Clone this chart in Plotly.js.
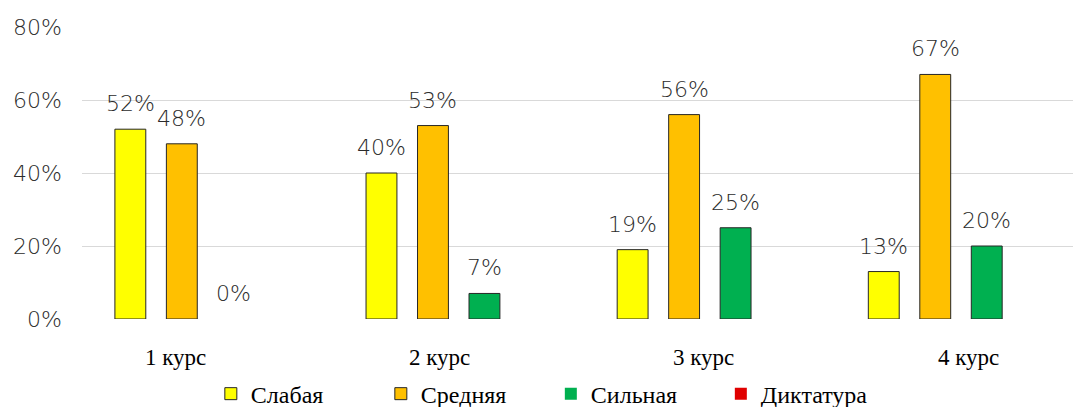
<!DOCTYPE html>
<html>
<head>
<meta charset="utf-8">
<script src="https://cdn.plot.ly/plotly-3.0.1.min.js"></script>
<style>html,body{margin:0;padding:0;background:#fff}#chart{width:1073px;height:407px}</style>
</head>
<body>
<div id="chart"></div>
<script>
// ---- data ----
const categories = ['1 курс', '2 курс', '3 курс', '4 курс'];
const seriesNames = ['Слабая', 'Средняя', 'Сильная', 'Диктатура'];
const weak = [0.52, 0.40, 0.19, 0.13];
const medium = [0.48, 0.53, 0.56, 0.67];
const strong = [0.00, 0.07, 0.25, 0.20];
const dictatorship = [0, 0, 0, 0];
const yTickVals = [0, 0.2, 0.4, 0.6, 0.8];
const yTickText = ['0%', '20%', '40%', '60%', '80%'];

// ---- style ----
const seriesValues = [weak, medium, strong, dictatorship];
const seriesColors = ['#FFFF00', '#FFC000', '#00B050', '#E00000'];
const showLabels = [true, true, true, false];
const barGap = 0.18, barGroupGap = 0.4;
const catLabelShift = [-32, -19, -6, 8];
const sansFont = {family: 'DejaVu Sans, sans-serif', size: 22, color: '#2b2b2b', weight: 200};
const serifFont = {family: 'Liberation Serif, Times New Roman, serif', size: 23, color: '#000'};

const traces = seriesValues.map((vals, j) => ({
  type: 'bar',
  name: seriesNames[j],
  x: categories,
  y: vals,
  marker: {
    color: seriesColors[j],
    line: {color: '#262626', width: vals.map(v => v > 0 ? 1 : 0)}
  },
  hoverinfo: 'skip'
}));

const nSeries = seriesValues.length;
const slot = (1 - barGap) / nSeries;
const annotations = [];
seriesValues.forEach((vals, j) => {
  if (!showLabels[j]) return;
  vals.forEach((v, i) => {
    annotations.push({
      xref: 'x', yref: 'y',
      x: i + (j - (nSeries - 1) / 2) * slot,
      y: v,
      text: Math.round(v * 100) + '%',
      showarrow: false,
      xanchor: 'center', yanchor: 'bottom',
      yshift: 11,
      font: sansFont
    });
  });
});
categories.forEach((c, i) => {
  annotations.push({
    xref: 'x', yref: 'paper',
    x: i, y: 0,
    text: c,
    showarrow: false,
    xanchor: 'center', yanchor: 'top',
    xshift: catLabelShift[i], yshift: -24,
    font: serifFont
  });
});

const layout = {
  width: 1073, height: 407,
  margin: {l: 82, r: 0, t: 27, b: 88, autoexpand: false},
  paper_bgcolor: '#fff', plot_bgcolor: '#fff',
  barmode: 'group',
  bargap: barGap,
  bargroupgap: barGroupGap,
  showlegend: true,
  legend: {
    orientation: 'h',
    x: 0.13, xanchor: 'left',
    y: -0.18, yanchor: 'top',
    font: {family: 'Liberation Serif, Times New Roman, serif', size: 24, color: '#000'},
    entrywidth: 125,
    traceorder: 'normal'
  },
  xaxis: {
    type: 'category',
    range: [-0.5, 3.446],
    showticklabels: false,
    showgrid: false,
    zeroline: false,
    showline: false,
    ticks: ''
  },
  yaxis: {
    range: [0, 0.8],
    tickvals: yTickVals,
    ticktext: yTickText,
    tickfont: sansFont,
    showgrid: true,
    gridcolor: '#D9D9D9',
    gridwidth: 1,
    zeroline: false,
    showline: false,
    ticks: '',
    ticklabelstandoff: 19
  },
  annotations: annotations
};

Plotly.newPlot('chart', traces, layout, {staticPlot: true, displayModeBar: false});
</script>
</body>
</html>
